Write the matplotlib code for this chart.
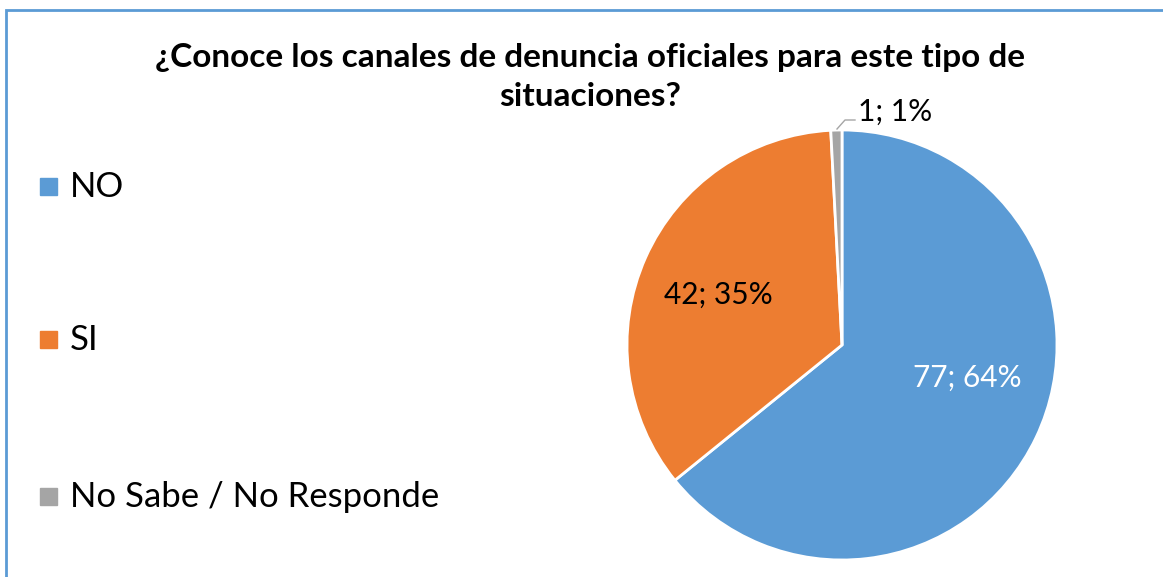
import matplotlib.pyplot as plt
from matplotlib.patches import Rectangle

# data
categories = ['NO', 'SI', 'No Sabe / No Responde']
counts = [77, 42, 1]
percents = [64, 35, 1]
colors = ['#5B9BD5', '#ED7D31', '#A5A5A5']

W, H = 1163, 577
fig = plt.figure(figsize=(W / 100, H / 100), dpi=100)
plt.rcParams['font.family'] = ['Lato', 'DejaVu Sans']

# chart area border
fig.add_artist(Rectangle((6 / W, -0.1), 1.2, (H - 10) / H + 0.1, transform=fig.transFigure,
                         fill=False, edgecolor='#5B9BD5', linewidth=2))

# pie
cx, cy, r = 842, 345, 215
ax = fig.add_axes([(cx - r) / W, (H - cy - r) / H, 2 * r / W, 2 * r / H])
wedges, _ = ax.pie(counts, colors=colors, startangle=90, counterclock=False, radius=1,
                   wedgeprops=dict(edgecolor='white', linewidth=2))
ax.set_xlim(-1, 1)
ax.set_ylim(-1, 1)
ax.set_aspect('equal')
ax.axis('off')

labels = [f'{c}; {p}%' for c, p in zip(counts, percents)]

def to_ax(px, py):
    return ((px - cx) / r, (cy - py) / r)

ax.text(*to_ax(967, 378), labels[0], color='white', fontsize=21.5, ha='center', va='center')
ax.text(*to_ax(718, 295), labels[1], color='black', fontsize=21.5, ha='center', va='center')
ax.text(*to_ax(858, 112), labels[2], color='black', fontsize=21.5, ha='left', va='center')
lx, ly = zip(to_ax(837, 129), to_ax(845, 120), to_ax(855, 120))
ax.plot(lx, ly, color='#A5A5A5', linewidth=1, clip_on=False)

# title
fig.text(590 / W, 1 - 57 / H, '¿Conoce los canales de denuncia oficiales para este tipo de',
         fontsize=24, fontweight='bold', ha='center', va='center')
fig.text(590 / W, 1 - 97 / H, 'situaciones?',
         fontsize=24, fontweight='bold', ha='center', va='center')

# legend
leg_y = [187, 340, 497]
for name, col, y in zip(categories, colors, leg_y):
    fig.add_artist(Rectangle((40 / W, 1 - (y + 8) / H), 17 / W, 17 / H,
                             transform=fig.transFigure, color=col))
    fig.text(70 / W, 1 - y / H, name, fontsize=25, ha='left', va='center')

fig.savefig('out.png', dpi=100)
